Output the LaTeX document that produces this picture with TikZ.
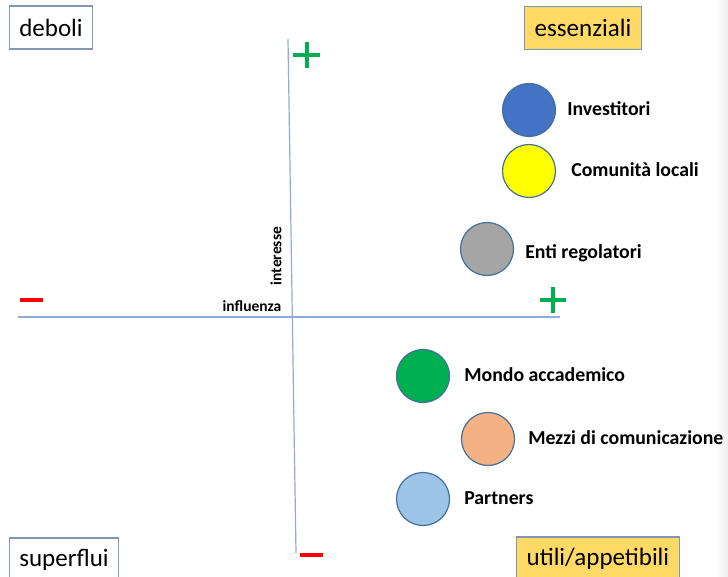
\documentclass[tikz,border=0pt]{standalone}
\usepackage{fontspec}
\setmainfont{Carlito}
\usetikzlibrary{positioning}

\definecolor{boxline}{RGB}{132,151,176}
\definecolor{boxgold}{RGB}{255,217,102}
\definecolor{ringline}{RGB}{65,113,156}
\definecolor{axisblue}{RGB}{143,170,220}
\definecolor{plusgreen}{RGB}{0,176,80}
\definecolor{minusred}{RGB}{255,0,0}
\definecolor{invblue}{RGB}{68,114,196}
\definecolor{comyellow}{RGB}{255,255,0}
\definecolor{entigray}{RGB}{165,165,165}
\definecolor{mondogreen}{RGB}{0,176,80}
\definecolor{mezziorange}{RGB}{244,177,131}
\definecolor{partblue}{RGB}{157,195,230}

\begin{document}
\begin{tikzpicture}[x=1pt, y=-1pt,
    quad/.style={draw=boxline, line width=1.2pt, minimum height=43pt, inner xsep=10pt, font=\fontsize{25}{30}\selectfont},
    stake/.style={circle, draw=ringline, line width=1.2pt, minimum size=53pt, inner sep=0pt},
    who/.style={font=\bfseries\fontsize{19.8}{24}\selectfont, inner sep=0pt, text height=1.6ex, text depth=.25ex, yshift=-2pt},
    axislbl/.style={font=\bfseries\fontsize{15.5}{18}\selectfont, inner sep=0pt},
    axisline/.style={draw=axisblue, line width=1.2pt},
    plussign/.style={draw=plusgreen, line width=3.8pt},
    minussign/.style={draw=minusred, line width=3.8pt}]
			\useasboundingbox (0,0) rectangle (728,577);
			\shade[left color=white, right color=gray!14] (716,0) rectangle (728,577);
			
			% Axes
			\coordinate (top) at (288,39);
			\coordinate (bottom) at (296,553);
			\coordinate (left) at (18,317);
			\coordinate (right) at (560,317);
			\path[axisline] (top) -- (bottom);
			\path[axisline] (left) -- (right);
			\node[axislbl, rotate=90] (interesse) at (276,256) {interesse};
			\node[axislbl] (influenza) at (252,306) {influenza};
			
			% Signs
			\path[plussign] (293,55) -- (320,55) (307,42) -- (307,68);
			\path[plussign] (540,300) -- (566,300) (553,287) -- (553,313);
			\path[minussign] (20,300) -- (43,300);
			\path[minussign] (300,555) -- (323,555);
			
			% Quadrants
			\node[quad] (deboli) at (51,27.5) {deboli};
			\node[quad, fill=boxgold] (essenziali) at (583,28) {essenziali};
			\node[quad] (superflui) at (64,559.5) {superflui};
			\node[quad, fill=boxgold] (utili) at (598,558.5) {utili/appetibili};
			
			% Stakeholders
			\node[stake, fill=invblue] (inv) at (529,110) {};
			\node[stake, fill=comyellow] (com) at (529,171) {};
			\node[stake, fill=entigray] (enti) at (487,249) {};
			\node[stake, fill=mondogreen] (mondo) at (423,376) {};
			\node[stake, fill=mezziorange] (mezzi) at (488,439) {};
			\node[stake, fill=partblue] (part) at (423,499) {};
			
			\node[who, right=11pt of inv] (invlbl) {Investitori};
			\node[who, right=15pt of com] (comlbl) {Comunità locali};
			\node[who, right=11pt of enti, yshift=-4pt] (entilbl) {Enti regolatori};
			\node[who, right=14pt of mondo] (mondolbl) {Mondo accademico};
			\node[who, right=13pt of mezzi] (mezzilbl) {Mezzi di comunicazione};
			\node[who, right=14pt of part] (partlbl) {Partners};
		\end{tikzpicture}
\end{document}
